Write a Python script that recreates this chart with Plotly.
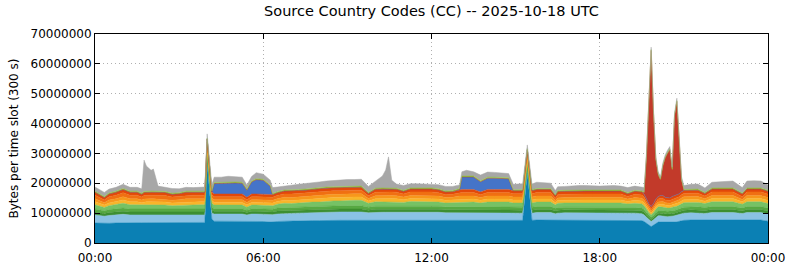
import plotly.graph_objects as go
import pandas as pd

# ---------------- data (values in millions of bytes per 300 s slot) ----------------
TIMES = [
    "00:00", "00:15", "00:20", "00:30", "00:45", "01:00",
    "01:15", "01:30", "01:40", "01:45", "01:50", "02:00", "02:05",
    "02:15", "02:30", "02:45", "03:00", "03:15", "03:30", "03:45", "03:55",
    "04:00", "04:10", "04:15", "04:30", "04:45", "05:00", "05:15",
    "05:25", "05:35", "05:45", "06:00", "06:15", "06:20", "06:30", "06:45",
    "07:00", "07:15", "07:30", "07:45", "08:00", "08:15", "08:30", "08:45",
    "09:00", "09:15", "09:30", "09:45", "10:00", "10:15", "10:22", "10:28", "10:35",
    "10:45", "11:00", "11:15", "11:30", "11:45", "12:00", "12:15", "12:30",
    "12:45", "13:00", "13:05", "13:15", "13:30", "13:45", "14:00", "14:15",
    "14:30", "14:45", "14:55", "15:00", "15:15", "15:25", "15:35", "15:45",
    "16:00", "16:15", "16:25", "16:30", "16:45", "17:00", "17:15", "17:30",
    "17:45", "18:00", "18:15", "18:30", "18:45", "19:00", "19:15", "19:30",
    "19:35", "19:40", "19:45", "19:50", "19:55", "20:00", "20:05", "20:10",
    "20:15", "20:20", "20:25", "20:30", "20:35", "20:40", "20:45", "20:50", "20:55",
    "21:00", "21:15", "21:30", "21:45", "22:00", "22:15", "22:30",
    "22:45", "23:05", "23:15", "23:30", "23:45", "24:00",
]

TEAL = [
    6.7, 6.6, 6.5, 6.6, 6.7, 6.8,
    6.8, 6.8, 6.8, 6.8, 6.9, 6.9, 6.9,
    6.8, 6.8, 6.8, 6.8, 6.9, 6.9, 6.9, 6.9,
    27.0, 8.0, 7.3, 7.3, 7.3, 7.3, 7.3,
    7.2, 7.3, 7.3, 7.2, 7.0, 7.1, 7.2, 7.3,
    7.4, 7.4, 7.5, 7.5, 7.5, 7.6, 7.6, 7.6,
    7.6, 7.6, 7.6, 7.5, 7.6, 7.6, 7.6, 7.6, 7.6,
    7.6, 7.6, 7.7, 7.7, 7.7, 7.7, 7.7, 7.6,
    7.6, 7.7, 7.7, 7.7, 7.7, 7.6, 7.7, 7.7,
    7.7, 7.7, 7.6, 7.6, 7.6, 23.5, 7.6, 7.7,
    7.7, 7.7, 7.5, 7.6, 7.7, 7.7, 7.7, 7.7,
    7.7, 7.7, 7.7, 7.7, 7.7, 7.6, 7.6, 7.5,
    7.2, 6.6, 6.0, 5.5, 6.0, 6.6, 7.0, 7.0,
    7.0, 6.9, 6.8, 6.8, 6.9, 7.0, 7.1, 7.3, 7.5,
    7.6, 7.7, 7.7, 7.6, 7.7, 7.7, 7.7,
    7.7, 7.6, 7.7, 7.7, 7.7, 7.3,
]

LIGHT_BLUE = [
    2.7, 2.6, 2.5, 2.6, 2.7, 2.8,
    2.6, 2.6, 2.5, 2.5, 2.5, 2.5, 2.5,
    2.5, 2.5, 2.4, 2.5, 2.5, 2.5, 2.5, 2.5,
    1.0, 2.0, 2.4, 2.4, 2.4, 2.4, 2.4,
    2.2, 2.4, 2.4, 2.4, 2.3, 2.4, 2.5, 2.6,
    2.5, 2.6, 2.6, 2.7, 2.7, 2.8, 2.8, 2.8,
    2.8, 2.8, 2.8, 2.6, 2.7, 2.7, 2.7, 2.7, 2.7,
    2.7, 2.6, 2.7, 2.7, 2.7, 2.7, 2.6, 2.5,
    2.5, 2.5, 2.5, 2.5, 2.5, 2.4, 2.5, 2.5,
    2.5, 2.5, 2.4, 2.4, 2.4, 1.0, 2.4, 2.5,
    2.5, 2.5, 2.3, 2.4, 2.4, 2.4, 2.4, 2.4,
    2.4, 2.4, 2.4, 2.4, 2.4, 2.3, 2.4, 2.3,
    2.2, 2.0, 1.8, 1.7, 1.8, 2.0, 2.1, 2.1,
    2.1, 2.0, 2.0, 2.0, 2.1, 2.1, 2.2, 2.3, 2.3,
    2.4, 2.4, 2.4, 2.3, 2.5, 2.5, 2.5,
    2.5, 2.3, 2.5, 2.5, 2.5, 2.4,
]

DARK_GREEN = [
    1.0, 0.9, 0.9, 1.0, 1.0, 1.0,
    1.0, 1.0, 1.0, 1.0, 1.0, 1.0, 1.0,
    1.0, 1.0, 1.0, 1.0, 1.0, 1.0, 1.0, 1.0,
    0.8, 1.0, 0.9, 0.9, 0.9, 0.9, 0.9,
    0.8, 0.9, 0.9, 0.9, 0.9, 0.9, 1.0, 1.0,
    1.0, 1.0, 1.0, 1.0, 1.0, 1.0, 1.0, 1.0,
    1.0, 1.0, 1.0, 0.9, 1.0, 1.0, 1.0, 1.0, 1.0,
    1.0, 1.0, 1.0, 1.0, 1.0, 1.0, 1.0, 1.0,
    1.0, 1.0, 1.0, 1.0, 1.0, 1.0, 1.0, 1.0,
    1.0, 1.0, 1.0, 1.0, 1.0, 0.8, 1.0, 1.0,
    1.0, 1.0, 0.9, 1.0, 1.0, 1.0, 1.0, 1.0,
    1.0, 1.0, 1.0, 1.0, 1.0, 1.0, 1.0, 1.0,
    0.9, 0.8, 0.7, 0.7, 0.7, 0.8, 0.9, 0.9,
    0.9, 0.9, 0.9, 0.9, 0.9, 0.9, 0.9, 0.9, 1.0,
    1.0, 1.0, 1.0, 1.0, 1.0, 1.0, 1.0,
    1.0, 0.9, 1.0, 1.0, 1.0, 1.0,
]

GREEN = [
    1.0, 0.9, 0.9, 1.0, 1.0, 1.1,
    1.0, 1.0, 1.0, 1.0, 1.0, 1.0, 1.0,
    1.0, 1.0, 1.0, 1.0, 1.0, 1.0, 1.0, 1.0,
    0.8, 1.0, 0.9, 0.9, 0.9, 0.9, 0.9,
    0.8, 0.9, 0.9, 0.9, 0.9, 0.9, 1.0, 1.0,
    1.0, 1.0, 1.0, 1.0, 1.0, 1.1, 1.1, 1.1,
    1.1, 1.1, 1.1, 1.0, 1.0, 1.0, 1.0, 1.0, 1.0,
    1.0, 1.0, 1.0, 1.0, 1.0, 1.0, 1.0, 1.0,
    1.0, 1.0, 1.0, 1.0, 1.0, 1.0, 1.0, 1.0,
    1.0, 1.0, 1.0, 1.0, 1.0, 0.8, 1.0, 1.0,
    1.0, 1.0, 0.9, 0.9, 0.9, 0.9, 0.9, 0.9,
    0.9, 0.9, 0.9, 0.9, 0.9, 0.9, 0.9, 0.9,
    0.9, 0.8, 0.7, 0.7, 0.7, 0.8, 0.9, 0.9,
    0.9, 0.9, 0.9, 0.9, 0.9, 0.9, 0.9, 0.9, 0.9,
    1.0, 1.0, 1.0, 1.0, 1.0, 1.0, 1.0,
    1.0, 0.9, 1.0, 1.0, 1.0, 1.0,
]

LIGHT_GREEN = [
    1.4, 1.2, 1.1, 1.3, 1.4, 1.6,
    1.4, 1.4, 1.3, 1.4, 1.4, 1.4, 1.4,
    1.4, 1.4, 1.3, 1.3, 1.4, 1.4, 1.4, 1.4,
    1.0, 1.3, 1.2, 1.2, 1.2, 1.2, 1.2,
    1.0, 1.2, 1.2, 1.2, 1.2, 1.2, 1.3, 1.4,
    1.3, 1.4, 1.4, 1.5, 1.5, 1.5, 1.6, 1.6,
    1.8, 1.8, 1.8, 1.3, 1.5, 1.5, 1.5, 1.5, 1.5,
    1.5, 1.4, 1.5, 1.5, 1.5, 1.5, 1.4, 1.3,
    1.4, 1.5, 1.5, 1.5, 1.5, 1.4, 1.5, 1.5,
    1.5, 1.5, 1.4, 1.4, 1.4, 1.0, 1.4, 1.5,
    1.5, 1.5, 1.2, 1.4, 1.4, 1.4, 1.4, 1.4,
    1.4, 1.4, 1.4, 1.4, 1.4, 1.3, 1.4, 1.4,
    1.3, 1.2, 1.0, 0.9, 1.0, 1.1, 1.2, 1.2,
    1.2, 1.2, 1.1, 1.1, 1.2, 1.2, 1.2, 1.3, 1.4,
    1.5, 1.5, 1.5, 1.3, 1.6, 1.6, 1.6,
    1.6, 1.3, 1.6, 1.6, 1.6, 1.5,
]

AMBER = [
    1.0, 0.8, 0.8, 0.9, 1.0, 1.1,
    1.0, 1.0, 0.9, 1.0, 1.0, 1.0, 1.0,
    1.0, 1.0, 0.9, 0.9, 1.0, 1.0, 1.0, 1.0,
    1.0, 0.9, 0.9, 0.9, 0.9, 0.9, 0.9,
    0.8, 0.9, 0.9, 0.9, 0.9, 0.9, 0.9, 1.0,
    1.0, 1.0, 1.0, 1.0, 1.1, 1.1, 1.1, 1.1,
    1.1, 1.1, 1.1, 0.8, 1.0, 1.1, 1.1, 1.1, 1.1,
    1.0, 0.9, 1.0, 1.0, 1.0, 1.0, 1.0, 0.9,
    0.9, 1.0, 1.0, 1.0, 1.0, 0.9, 1.0, 1.0,
    1.0, 1.0, 1.0, 1.0, 1.0, 1.0, 1.0, 1.0,
    1.0, 1.0, 0.7, 0.9, 0.9, 1.0, 1.0, 1.0,
    1.0, 1.0, 1.0, 1.0, 1.0, 0.8, 1.0, 1.0,
    0.9, 0.8, 0.7, 0.6, 0.7, 0.8, 0.8, 0.9,
    0.9, 0.8, 0.8, 0.8, 0.8, 0.9, 0.9, 0.9, 1.0,
    1.0, 1.0, 1.0, 0.8, 1.1, 1.1, 1.1,
    1.1, 0.8, 1.1, 1.1, 1.1, 1.0,
]

ORANGE = [
    1.0, 0.8, 0.8, 1.0, 1.0, 1.1,
    1.0, 1.0, 0.9, 1.0, 1.0, 1.0, 1.0,
    1.0, 1.0, 0.9, 1.0, 1.0, 1.0, 1.0, 1.0,
    1.0, 0.9, 0.9, 0.9, 0.9, 0.9, 0.9,
    0.8, 0.9, 0.9, 0.9, 0.9, 0.9, 0.9, 1.0,
    1.0, 1.0, 1.0, 1.1, 1.1, 1.1, 1.1, 1.1,
    1.1, 1.1, 1.1, 0.8, 1.0, 1.0, 1.0, 1.0, 1.0,
    1.0, 0.9, 1.0, 1.0, 1.0, 1.0, 1.0, 0.9,
    0.9, 1.0, 1.0, 1.0, 1.0, 0.9, 1.0, 1.0,
    1.0, 1.0, 1.0, 1.0, 1.0, 1.0, 1.0, 1.0,
    1.0, 1.0, 0.7, 0.9, 0.9, 0.9, 0.9, 0.9,
    0.9, 0.9, 0.9, 0.9, 0.9, 0.8, 0.9, 0.9,
    0.9, 0.8, 0.7, 0.6, 0.7, 0.8, 0.8, 0.9,
    0.9, 0.8, 0.8, 0.8, 0.8, 0.9, 0.9, 0.9, 1.0,
    1.0, 1.0, 1.0, 0.8, 1.0, 1.0, 1.0,
    1.0, 0.8, 1.0, 1.0, 1.0, 1.0,
]

DARK_ORANGE = [
    1.2, 1.0, 0.9, 1.1, 1.2, 1.3,
    1.2, 1.2, 1.0, 1.2, 1.2, 1.2, 1.2,
    1.2, 1.2, 1.1, 1.1, 1.2, 1.2, 1.2, 1.2,
    1.2, 1.1, 1.0, 1.0, 1.0, 1.0, 1.0,
    0.9, 1.0, 1.0, 1.0, 1.0, 1.0, 1.1, 1.1,
    1.2, 1.2, 1.2, 1.2, 1.2, 1.2, 1.2, 1.2,
    1.2, 1.2, 1.2, 0.9, 1.2, 1.2, 1.2, 1.2, 1.2,
    1.2, 1.0, 1.2, 1.2, 1.2, 1.2, 1.1, 1.0,
    1.0, 1.2, 1.2, 1.2, 1.2, 1.0, 1.2, 1.2,
    1.2, 1.2, 1.1, 1.1, 1.1, 1.1, 1.1, 1.2,
    1.2, 1.2, 0.8, 1.1, 1.1, 1.1, 1.1, 1.1,
    1.1, 1.1, 1.1, 1.1, 1.1, 0.9, 1.1, 1.1,
    1.0, 0.9, 0.8, 0.7, 0.8, 0.9, 1.0, 1.0,
    1.0, 0.9, 0.9, 0.9, 1.0, 1.0, 1.0, 1.0, 1.1,
    1.1, 1.1, 1.1, 0.9, 1.2, 1.2, 1.2,
    1.2, 0.9, 1.2, 1.2, 1.2, 1.1,
]

RED_ORANGE = [
    1.0, 0.9, 0.8, 0.9, 1.0, 1.1,
    1.0, 1.0, 0.9, 1.0, 1.0, 1.0, 1.0,
    1.0, 1.0, 0.9, 0.9, 1.0, 1.0, 1.0, 1.0,
    1.0, 0.9, 0.9, 0.9, 0.9, 0.9, 0.9,
    0.8, 0.9, 0.9, 0.9, 0.9, 0.9, 0.9, 1.0,
    1.0, 1.0, 1.0, 1.0, 1.0, 1.0, 1.0, 1.0,
    1.0, 1.0, 1.0, 0.8, 1.0, 1.0, 1.0, 1.0, 1.0,
    1.0, 0.9, 1.0, 1.0, 1.0, 1.0, 1.0, 0.9,
    0.9, 1.0, 1.0, 1.0, 1.0, 0.9, 1.0, 1.0,
    1.0, 1.0, 1.0, 1.0, 1.0, 1.0, 1.0, 1.0,
    1.0, 1.0, 0.8, 1.0, 1.0, 1.0, 1.0, 1.0,
    1.0, 1.0, 1.0, 1.0, 1.0, 0.9, 1.0, 1.0,
    1.0, 0.9, 0.8, 0.8, 0.8, 0.9, 0.9, 1.0,
    1.0, 0.9, 0.9, 0.9, 1.0, 1.0, 1.0, 1.0, 1.0,
    1.0, 1.0, 1.0, 0.9, 1.0, 1.0, 1.0,
    1.0, 0.9, 1.0, 1.0, 1.0, 1.0,
]

BLUE = [
    0, 0, 0, 0, 0, 0,
    0, 0, 0, 0, 0, 0, 0,
    0, 0, 0, 0, 0, 0, 0, 0,
    0, 0, 3.5, 3.6, 3.7, 3.7, 3.6,
    2.4, 4.0, 4.8, 4.7, 3.0, 0, 0, 0,
    0, 0, 0, 0, 0, 0, 0, 0,
    0, 0, 0, 0, 0, 0, 0, 0, 0,
    0, 0, 0, 0, 0, 0, 0, 0,
    0, 0, 4.2, 4.3, 4.2, 3.4, 3.8, 3.8,
    3.8, 3.6, 0, 0, 0, 0, 0, 0,
    0, 0, 0, 0, 0, 0, 0, 0,
    0, 0, 0, 0, 0, 0, 0, 0,
    0, 0, 0, 0, 0, 0, 0, 0,
    0, 0, 0, 0, 0, 0, 0, 0, 0,
    0, 0, 0, 0, 0, 0, 0,
    0, 0, 0, 0, 0, 0,
]

RED = [
    0, 0, 0, 0, 0, 0,
    0, 0, 0, 0, 0, 0, 0,
    0, 0, 0, 0, 0, 0, 0, 0,
    0, 0, 0, 0, 0, 0, 0,
    0, 0, 0, 0, 0, 0, 0, 0,
    0, 0, 0, 0, 0, 0, 0, 0,
    0, 0, 0, 0, 0, 0, 0, 0, 0,
    0, 0, 0, 0, 0, 0, 0, 0,
    0, 0, 0, 0, 0, 0, 0, 0,
    0, 0, 0, 0, 0, 0, 0, 0,
    0, 0, 0, 0, 0, 0, 0, 0,
    0, 0, 0, 0, 0, 0, 0, 0,
    0.5, 14.1, 35.7, 52.3, 30.2, 13.1, 7.2, 5.2,
    9.8, 13.1, 14.9, 16.1, 8.8, 26.5, 31.3, 16.9, 3.7,
    0, 0, 0, 0, 0, 0, 0,
    0, 0, 0, 0, 0, 0,
]

YELLOW_GREEN = [
    0.35, 0.35, 0.35, 0.35, 0.35, 0.35,
    0.35, 0.35, 0.35, 0.35, 0.35, 0.35, 0.35,
    0.35, 0.35, 0.35, 0.35, 0.35, 0.35, 0.35, 0.35,
    0.35, 0.35, 0.35, 0.35, 0.35, 0.35, 0.35,
    0.35, 0.35, 0.35, 0.35, 0.35, 0.35, 0.35, 0.35,
    0.35, 0.35, 0.35, 0.35, 0.35, 0.35, 0.35, 0.35,
    0.35, 0.35, 0.35, 0.35, 0.35, 0.35, 0.35, 0.35, 0.35,
    0.35, 0.35, 0.35, 0.35, 0.35, 0.35, 0.35, 0.35,
    0.35, 0.35, 0.35, 0.35, 0.35, 0.35, 0.35, 0.35,
    0.35, 0.35, 0.35, 0.35, 0.35, 0.35, 0.35, 0.35,
    0.35, 0.35, 0.35, 0.35, 0.35, 0.35, 0.35, 0.35,
    0.35, 0.35, 0.35, 0.35, 0.35, 0.35, 0.35, 0.35,
    0.3, 0.3, 0.3, 0.3, 0.3, 0.3, 0.3, 0.3,
    0.3, 0.3, 0.3, 0.3, 0.3, 0.3, 0.3, 0.3, 0.3,
    0.35, 0.35, 0.35, 0.35, 0.35, 0.35, 0.35,
    0.35, 0.35, 0.35, 0.35, 0.35, 0.35,
]

GRAY = [
    1.4, 1.5, 1.4, 1.3, 1.3, 1.4,
    1.3, 1.3, 1.5, 10.5, 8.4, 7.0, 7.4,
    1.8, 1.4, 1.6, 1.3, 1.3, 1.2, 1.3, 1.4,
    1.4, 2.0, 1.8, 1.7, 1.9, 1.8, 1.7,
    1.4, 1.5, 2.0, 1.7, 1.7, 2.0, 1.6, 1.4,
    1.6, 1.7, 1.8, 1.8, 2.0, 2.0, 2.1, 2.1,
    2.2, 2.2, 2.3, 2.0, 2.4, 4.0, 6.0, 10.4, 2.6,
    1.4, 1.6, 1.4, 1.4, 1.3, 1.4, 1.4, 1.5,
    1.4, 1.2, 1.4, 1.8, 1.4, 1.9, 1.7, 1.6,
    1.5, 1.4, 1.8, 1.9, 2.0, 1.3, 1.9, 2.1,
    2.0, 1.8, 1.4, 1.3, 1.3, 1.4, 1.5, 1.5,
    1.3, 1.3, 1.4, 1.5, 1.3, 1.7, 1.4, 1.4,
    1.5, 0.8, 0.8, 0.8, 0.8, 0.8, 0.8, 0.8,
    0.8, 0.8, 0.8, 0.8, 0.8, 0.8, 0.8, 0.8, 1.0,
    1.3, 1.6, 1.7, 1.5, 1.9, 2.1, 2.2,
    2.3, 1.8, 2.3, 2.4, 2.3, 1.8,
]

X_TICK_HOURS = [0, 6, 12, 18, 24]
X_TICK_LABELS = ["00:00", "06:00", "12:00", "18:00", "00:00"]
Y_TICKS = [0, 10000000, 20000000, 30000000, 40000000, 50000000, 60000000, 70000000]
Y_TICK_LABELS = ["0", "10000000", "20000000", "30000000", "40000000",
                 "50000000", "60000000", "70000000"]

TITLE = "Source Country Codes (CC) -- 2025-10-18 UTC"
Y_TITLE = "Bytes per time slot (300 s)"
UNIT = 1e6

# ---------------- figure ----------------
base = pd.Timestamp("2025-10-18")
x = [base + pd.Timedelta(hours=int(t[:2]), minutes=int(t[3:])) for t in TIMES]

layers = [
    ("teal", TEAL, "#0b80b4"),
    ("light blue", LIGHT_BLUE, "#8ac2e4"),
    ("dark green", DARK_GREEN, "#3d8f31"),
    ("green", GREEN, "#57a943"),
    ("light green", LIGHT_GREEN, "#76c265"),
    ("amber", AMBER, "#f8b52b"),
    ("orange", ORANGE, "#f7971c"),
    ("dark orange", DARK_ORANGE, "#f06f12"),
    ("red orange", RED_ORANGE, "#e2480a"),
    ("blue", BLUE, "#4574c8"),
    ("red", RED, "#c23a2a"),
    ("yellow green", YELLOW_GREEN, "#8cc43f"),
    ("gray", GRAY, "#a7a7a7"),
]

for name, vals, _ in layers:
    assert len(vals) == len(TIMES), (name, len(vals), len(TIMES))

fig = go.Figure()
for name, vals, col in layers:
    fig.add_trace(go.Scatter(
        x=x, y=[v * UNIT for v in vals], name=name, mode="lines",
        stackgroup="one", line=dict(width=0.5, color=col), fillcolor=col,
        showlegend=False, hoverinfo="skip",
    ))

fig.update_layout(
    width=790, height=267,
    margin=dict(l=95, r=22, t=34, b=24, autoexpand=False),
    paper_bgcolor="white", plot_bgcolor="white",
    font=dict(family="DejaVu Sans", size=12, color="black"),
    title=dict(text=TITLE, x=431.5 / 790, xanchor="center",
               y=1 - 11 / 267, yanchor="middle", font=dict(size=14.5)),
    showlegend=False,
)
fig.update_xaxes(
    type="date", automargin=False,
    range=[base, base + pd.Timedelta(hours=24)],
    tickvals=[base + pd.Timedelta(hours=h) for h in X_TICK_HOURS],
    ticktext=X_TICK_LABELS, ticklabelstandoff=4,
    showgrid=True, gridcolor="#b0b0b0", griddash="1px,3px", gridwidth=1,
    showline=True, linecolor="black", linewidth=1, mirror="ticks",
    ticks="inside", ticklen=5, tickcolor="black", zeroline=False,
)
fig.update_yaxes(
    range=[0, 70000000], automargin=False,
    tickvals=Y_TICKS, ticktext=Y_TICK_LABELS,
    title=dict(text=Y_TITLE, standoff=9, font=dict(size=12)),
    showgrid=True, gridcolor="#b0b0b0", griddash="1px,3px", gridwidth=1,
    showline=True, linecolor="black", linewidth=1, mirror="ticks",
    ticks="inside", ticklen=5, tickcolor="black", zeroline=False,
)

fig.write_html("out.html")
